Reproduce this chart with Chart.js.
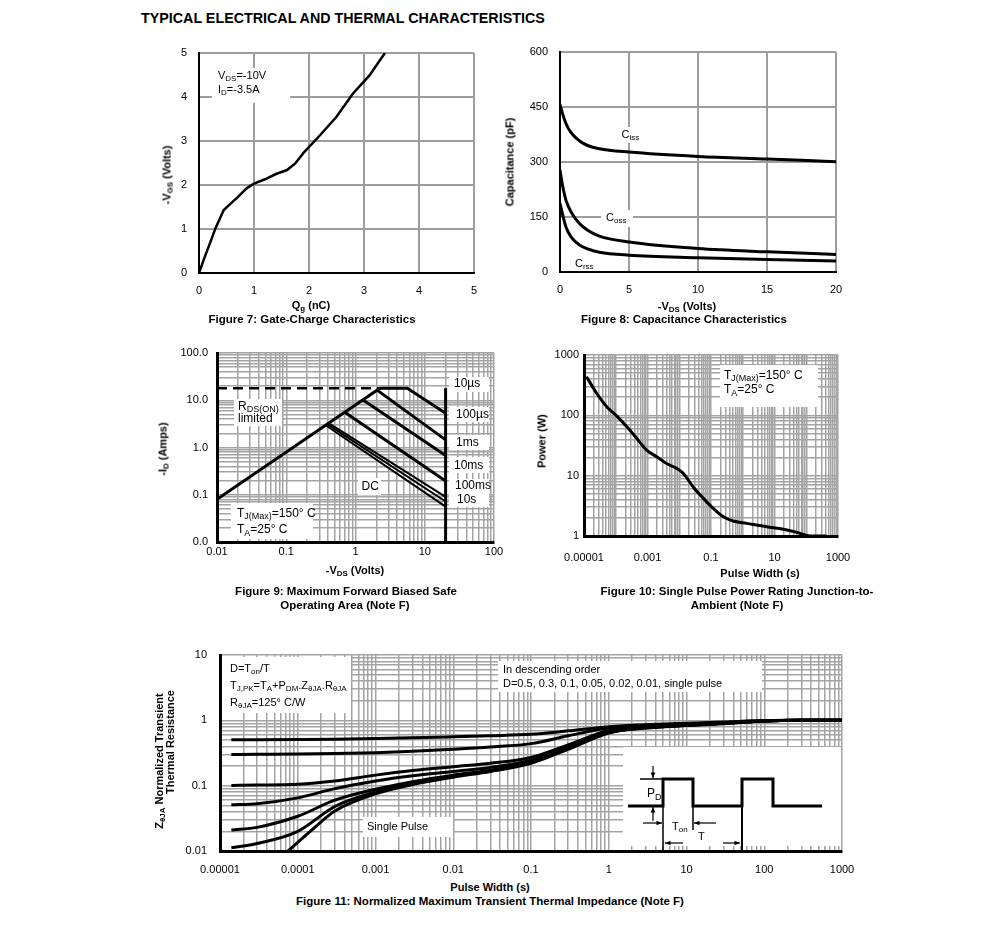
<!DOCTYPE html>
<html>
<head>
<meta charset="utf-8">
<title>Typical Electrical and Thermal Characteristics</title>
<script src="https://cdn.jsdelivr.net/npm/chart.js@4.4.1/dist/chart.umd.min.js"></script>
<style>
  html, body { margin: 0; padding: 0; background: #fff; }
  body { width: 991px; height: 926px; position: relative; overflow: hidden;
         font-family: "Liberation Sans", Arial, Helvetica, sans-serif; color: #000; }
  canvas { position: absolute; }
  .t { position: absolute; white-space: nowrap; font-weight: bold; font-size: 11px; line-height: 1;
       transform: translate(-50%, -50%); }
  .cap { font-size: 11.5px; }
  .rot { transform: translate(-50%, -50%) rotate(-90deg); }
  sub { font-size: 0.72em; vertical-align: -0.3em; line-height: 0; }
  #pageTitle { left: 141px; top: 11px; transform: none; font-size: 14.3px; }
</style>
</head>
<body>
<div class="t" id="pageTitle">TYPICAL ELECTRICAL AND THERMAL CHARACTERISTICS</div>

<canvas id="fig7" width="350" height="277" style="left:140px;top:33px"></canvas>
<div class="t rot" style="left:167px;top:175px">-V<sub>GS</sub> (Volts)</div>
<div class="t" style="left:311px;top:305px">Q<sub>g</sub> (nC)</div>
<div class="t cap" style="left:312px;top:320px">Figure 7: Gate-Charge Characteristics</div>

<canvas id="fig8" width="355" height="278" style="left:500px;top:32px"></canvas>
<div class="t rot" style="left:510px;top:162px">Capacitance (pF)</div>
<div class="t" style="left:687px;top:306px">-V<sub>DS</sub> (Volts)</div>
<div class="t cap" style="left:684px;top:320px">Figure 8: Capacitance Characteristics</div>

<canvas id="fig9" width="360" height="232" style="left:150px;top:333px"></canvas>
<div class="t rot" style="left:163px;top:449px">-I<sub>D</sub> (Amps)</div>
<div class="t" style="left:355px;top:570px">-V<sub>DS</sub> (Volts)</div>
<div class="t cap" style="left:346px;top:592px">Figure 9: Maximum Forward Biased Safe</div>
<div class="t cap" style="left:345px;top:606px">Operating Area (Note F)</div>

<canvas id="fig10" width="346" height="225" style="left:520px;top:340px"></canvas>
<div class="t rot" style="left:542px;top:441px">Power (W)</div>
<div class="t" style="left:760px;top:573px">Pulse Width (s)</div>
<div class="t cap" style="left:737px;top:592px">Figure 10: Single Pulse Power Rating Junction-to-</div>
<div class="t cap" style="left:737px;top:606px">Ambient (Note F)</div>

<canvas id="fig11" width="720" height="245" style="left:150px;top:635px"></canvas>
<div class="t rot" style="left:159px;top:761px">Z<sub>θJA</sub> Normalized Transient</div>
<div class="t rot" style="left:170px;top:742px">Thermal Resistance</div>
<div class="t" style="left:490px;top:887px">Pulse Width (s)</div>
<div class="t cap" style="left:490px;top:902px">Figure 11: Normalized Maximum Transient Thermal Impedance (Note F)</div>

<script>
// ---- Figure 7: gate charge ----
const gateCharge = [0, 0.1, 0.2, 0.3, 0.45, 0.55, 0.7, 0.87, 1.0, 1.2, 1.4, 1.6, 1.75, 1.9, 2.2, 2.5, 2.8, 3.1, 3.38];
const gateVolts = [0, 0.35, 0.68, 1.02, 1.43, 1.55, 1.72, 1.93, 2.03, 2.13, 2.25, 2.34, 2.49, 2.73, 3.13, 3.55, 4.08, 4.49, 5.0];

// ---- Figure 8: capacitance ----
const capVds = [0, 0.2, 0.43, 0.8, 1.4, 2, 2.85, 5, 10, 15, 20];
const capCiss = [457, 430, 405, 380, 358, 345, 336, 327, 315, 308, 301];
const capCoss = [278, 233, 196, 164, 132, 114, 98, 82, 64, 55, 48];
const capCrss = [187, 155, 123, 96, 74, 63, 54, 46, 39, 34, 30];

// ---- Figure 9: safe operating area, [Vds, Id] ----
const soaRdsLimit = [[0.01, 0.08], [2.25, 18]];
const soaCurrentLimit = [[0.01, 18], [2.25, 18]];
const soa10us = [[2.25, 18], [5.6, 18], [20, 5.3]];
const soa100us = [[2.05, 16.4], [20, 1.45]];
const soa1ms = [[1.27, 10.2], [20, 0.68]];
const soa10ms = [[0.7, 5.6], [20, 0.195]];
const soa100ms = [[0.41, 3.28], [20, 0.09]];
const soa10s = [[0.39, 3.12], [20, 0.072]];
const soaDC = [[0.37, 2.96], [20, 0.056]];
const soaVdsMax = [[20, 0.01], [20, 18]];
const soaXTicks = [0.01, 0.1, 1, 10, 100];
const soaXLabels = ['0.01', '0.1', '1', '10', '100'];
const soaYTicks = [0.01, 0.1, 1, 10, 100];
const soaYLabels = ['0.0', '0.1', '1.0', '10.0', '100.0'];

// ---- Figure 10: single pulse power ----
const pulseWidth = [1.2e-5, 2.5e-5, 5.2e-5, 1.07e-4, 2.2e-4, 4.6e-4, 9.4e-4, 1.95e-3, 4.0e-3, 8.3e-3, 1.35e-2,
  2.75e-2, 5.75e-2, 0.117, 0.245, 0.5, 1.33, 5.7, 19, 50, 132, 437];
const peakPower = [436, 232, 139, 98, 65, 41.4, 26.6, 20.6, 15.9, 13.2, 10.9,
  6.5, 4.2, 2.87, 2.08, 1.77, 1.62, 1.42, 1.29, 1.15, 1.0, 1.0];
const powXTicks = [1e-5, 1e-3, 0.1, 10, 1000];
const powXLabels = ['0.00001', '0.001', '0.1', '10', '1000'];
const powYTicks = [1, 10, 100, 1000];
const powYLabels = ['1', '10', '100', '1000'];

// ---- Figure 11: transient thermal impedance ----
const zthTime = [1.4e-5, 3e-5, 1e-4, 3e-4, 1e-3, 3e-3, 0.01, 0.03, 0.1, 0.3, 1, 3, 10, 30, 100, 300, 1000];
const zthD05 = [0.505, 0.506, 0.51, 0.515, 0.525, 0.54, 0.56, 0.58, 0.61, 0.69, 0.8, 0.86, 0.9, 0.94, 0.99, 1.0, 1.0];
const zthD03 = [0.3, 0.302, 0.305, 0.31, 0.32, 0.335, 0.36, 0.39, 0.44, 0.58, 0.76, 0.83, 0.88, 0.92, 0.99, 1.0, 1.0];
const zthD01 = [0.101, 0.102, 0.105, 0.118, 0.145, 0.17, 0.195, 0.22, 0.27, 0.42, 0.7, 0.8, 0.86, 0.91, 0.98, 1.0, 1.0];
const zthD005 = [0.051, 0.053, 0.065, 0.09, 0.118, 0.142, 0.165, 0.19, 0.245, 0.4, 0.68, 0.79, 0.85, 0.9, 0.98, 1.0, 1.0];
const zthD002 = [0.021, 0.023, 0.034, 0.06, 0.088, 0.115, 0.145, 0.172, 0.23, 0.38, 0.66, 0.78, 0.84, 0.9, 0.98, 1.0, 1.0];
const zthD001 = [0.0112, 0.013, 0.02, 0.048, 0.08, 0.108, 0.14, 0.168, 0.225, 0.37, 0.65, 0.77, 0.84, 0.9, 0.98, 1.0, 1.0];
const singleTime = [7.5e-5, 1e-4, 2e-4, 3e-4, 1e-3, 3e-3, 0.01, 0.03, 0.1, 0.3, 1, 3, 10, 30, 100, 300, 1000];
const singlePulse = [0.01, 0.0135, 0.028, 0.041, 0.075, 0.104, 0.135, 0.165, 0.22, 0.36, 0.64, 0.76, 0.83, 0.89, 0.98, 1.0, 1.0];
const zthXTicks = [1e-5, 1e-4, 1e-3, 0.01, 0.1, 1, 10, 100, 1000];
const zthXLabels = ['0.00001', '0.0001', '0.001', '0.01', '0.1', '1', '10', '100', '1000'];
const zthYTicks = [0.01, 0.1, 1, 10];
const zthYLabels = ['0.01', '0.1', '1', '10'];

const FONT = '"Liberation Sans", Arial, Helvetica, sans-serif';
Chart.defaults.font.family = FONT;
Chart.defaults.font.size = 11;
Chart.defaults.color = '#000';

// text with _{subscript} parts, drawn on the canvas
function richText(ctx, str, x, y, size) {
  let cx = x;
  str.split(/(_\{[^}]*\})/).forEach((part) => {
    if (!part) return;
    const sub = part.startsWith('_{');
    const t = sub ? part.slice(2, -1) : part;
    ctx.font = (sub ? Math.round(size * 0.72) : size) + 'px ' + FONT;
    ctx.fillText(t, cx, sub ? y + size * 0.28 : y);
    cx += ctx.measureText(t).width;
  });
}

// white label boxes and texts, offsets from the chart area's top-left
function notes(boxes, texts) {
  return {
    id: 'notes',
    beforeDatasetsDraw(chart) {
      const { ctx, chartArea: a } = chart;
      ctx.save();
      ctx.fillStyle = '#fff';
      boxes.forEach(([x, y, w, h]) => ctx.fillRect(a.left + x, a.top + y, w, h));
      ctx.fillStyle = '#000';
      ctx.textBaseline = 'middle';
      ctx.textAlign = 'left';
      texts.forEach(([x, y, s, size]) => richText(ctx, s, a.left + x, a.top + y, size || 11));
      ctx.restore();
    },
  };
}

function arrow(ctx, x1, y1, x2, y2) {
  const ang = Math.atan2(y2 - y1, x2 - x1);
  ctx.beginPath();
  ctx.moveTo(x1, y1);
  ctx.lineTo(x2, y2);
  ctx.stroke();
  ctx.beginPath();
  ctx.moveTo(x2, y2);
  ctx.lineTo(x2 - 6 * Math.cos(ang - 0.4), y2 - 6 * Math.sin(ang - 0.4));
  ctx.lineTo(x2 - 6 * Math.cos(ang + 0.4), y2 - 6 * Math.sin(ang + 0.4));
  ctx.closePath();
  ctx.fill();
}

// duty-cycle sketch in the corner of figure 11
const dutyInset = {
  id: 'dutyInset',
  beforeDatasetsDraw(chart) {
    const { ctx, chartArea: a } = chart;
    const L = a.right - 219, T = a.bottom - 104;
    ctx.save();
    ctx.fillStyle = '#fff';
    ctx.fillRect(L, T, 218, 99);
    ctx.strokeStyle = '#000';
    ctx.fillStyle = '#000';
    ctx.lineWidth = 3;
    ctx.beginPath();
    [[5, 59], [40, 59], [40, 32], [70, 32], [70, 59], [119, 59], [119, 32], [150, 32], [150, 59], [199, 59]]
      .forEach(([x, y], i) => (i ? ctx.lineTo(L + x, T + y) : ctx.moveTo(L + x, T + y)));
    ctx.stroke();
    ctx.lineWidth = 1.5;
    ctx.beginPath();
    ctx.moveTo(L + 40, T + 59); ctx.lineTo(L + 40, T + 104);
    ctx.moveTo(L + 70, T + 59); ctx.lineTo(L + 70, T + 83);
    ctx.moveTo(L + 17, T + 32); ctx.lineTo(L + 40, T + 32);
    ctx.stroke();
    ctx.lineWidth = 2;
    ctx.beginPath();
    ctx.moveTo(L + 119, T + 59); ctx.lineTo(L + 119, T + 104);
    ctx.stroke();
    ctx.lineWidth = 1.2;
    arrow(ctx, L + 30, T + 19, L + 30, T + 31);
    arrow(ctx, L + 30, T + 74, L + 30, T + 60);
    arrow(ctx, L + 20, T + 76, L + 39, T + 76);
    arrow(ctx, L + 93, T + 76, L + 71, T + 76);
    arrow(ctx, L + 60, T + 96, L + 42, T + 96);
    arrow(ctx, L + 100, T + 96, L + 117, T + 96);
    ctx.textBaseline = 'middle';
    richText(ctx, 'P_{D}', L + 24, T + 47, 12);
    richText(ctx, 'T_{on}', L + 49, T + 80, 11);
    richText(ctx, 'T', L + 75, T + 90, 11);
    ctx.restore();
  },
};

function fitAxis(size) {
  return (s) => { if (s.isHorizontal()) s.height = size; else s.width = size; };
}

function logTicks(minExp, maxExp) {
  const out = [];
  for (let e = minExp; e < maxExp; e++) {
    for (let m = 1; m < 10; m++) out.push(+(m * Math.pow(10, e)).toPrecision(3));
  }
  out.push(Math.pow(10, maxExp));
  return out;
}

function linAxis(min, max, step, size, pad) {
  return {
    type: 'linear', min, max,
    afterFit: fitAxis(size),
    ticks: { stepSize: step, padding: pad, maxRotation: 0, autoSkip: false },
    grid: { color: '#9d9d9d', lineWidth: 2, drawTicks: false },
    border: { color: '#000', width: 2, z: 1 },
  };
}

function logAxis(minExp, maxExp, tickVals, tickLabels, size, pad) {
  const grid = logTicks(minExp, maxExp);
  return {
    type: 'logarithmic',
    min: Math.pow(10, minExp), max: Math.pow(10, maxExp),
    afterFit: fitAxis(size),
    afterBuildTicks: (s) => { s.ticks = grid.map((value) => ({ value })); },
    ticks: {
      padding: pad, maxRotation: 0, minRotation: 0, autoSkip: false,
      callback: (v) => {
        const i = tickVals.findIndex((d) => Math.abs(d - v) < d * 1e-6);
        return i >= 0 ? tickLabels[i] : '';
      },
    },
    grid: { color: '#a3a3a3', lineWidth: 1.5, drawTicks: false },
    border: { color: '#000', width: 3, z: 1 },
  };
}

function baseOptions(padding, scales) {
  return {
    responsive: false,
    animation: false,
    events: [],
    layout: { padding },
    plugins: { legend: { display: false }, tooltip: { enabled: false } },
    elements: { point: { radius: 0 }, line: { borderColor: '#000', borderWidth: 3, fill: false } },
    scales,
  };
}

const pairs = (xs, ys) => xs.map((x, i) => ({ x, y: ys[i] }));
const pts = (arr) => arr.map(([x, y]) => ({ x, y }));

// Figure 7
new Chart(document.getElementById('fig7'), {
  type: 'line',
  data: { datasets: [{ data: pairs(gateCharge, gateVolts), borderWidth: 2.5, tension: 0 }] },
  options: baseOptions({ top: 20, right: 16, left: 0, bottom: 0 }, {
    x: linAxis(0, 5, 1, 37, 11),
    y: linAxis(0, 5, 1, 59, 12),
  }),
  plugins: [notes([[13, 15, 78, 35]], [[19, 23, 'V_{DS}=-10V'], [19, 37, 'I_{D}=-3.5A']])],
});

// Figure 8
new Chart(document.getElementById('fig8'), {
  type: 'line',
  data: {
    datasets: [
      { data: pairs(capVds, capCiss), cubicInterpolationMode: 'monotone' },
      { data: pairs(capVds, capCoss), cubicInterpolationMode: 'monotone' },
      { data: pairs(capVds, capCrss), cubicInterpolationMode: 'monotone' },
    ],
  },
  options: baseOptions({ top: 20, right: 19, left: 0, bottom: 0 }, {
    x: linAxis(0, 20, 5, 38, 11),
    y: linAxis(0, 600, 150, 60, 12),
  }),
  plugins: [notes(
    [[57, 75, 28, 16], [41, 158, 32, 17], [11, 205, 26, 14]],
    [[61.5, 83, 'C_{iss}'], [46, 166, 'C_{oss}'], [15, 212, 'C_{rss}']]
  )],
});

// Figure 9
const soaWide = [soaRdsLimit, soa10us, soa100us, soa1ms, soa10ms, soaVdsMax];
const soaNarrow = [soa100ms, soa10s, soaDC];
new Chart(document.getElementById('fig9'), {
  type: 'line',
  data: {
    datasets: [
      { data: pts(soaCurrentLimit), borderWidth: 2.5, borderDash: [10, 6], tension: 0 },
      ...soaWide.map((l) => ({ data: pts(l), borderWidth: 3, tension: 0 })),
      ...soaNarrow.map((l) => ({ data: pts(l), borderWidth: 2, tension: 0 })),
    ],
  },
  options: baseOptions({ top: 20, right: 16, left: 0, bottom: 0 }, {
    x: logAxis(-2, 2, soaXTicks, soaXLabels, 23, 3),
    y: logAxis(-2, 2, soaYTicks, soaYLabels, 67, 9),
  }),
  plugins: [notes(
    [[17, 46, 48, 27], [14, 150, 82, 36], [141, 125, 23, 17],
     [232, 24, 40, 15], [232, 54, 40, 15], [232, 82, 40, 15],
     [232, 104, 40, 16], [232, 126, 40, 14], [232, 140, 40, 14]],
    [[21, 53.5, 'R_{DS(ON)}', 12], [21, 65.5, 'limited', 12],
     [20, 160.5, 'T_{J(Max)}=150° C', 12], [20, 177, 'T_{A}=25° C', 12],
     [144.5, 133.5, 'DC', 12],
     [237, 31, '10µs', 12], [239, 62, '100µs', 12], [239, 90, '1ms', 12],
     [237, 112.5, '10ms', 12], [238, 133, '100ms', 12], [240, 147, '10s', 12]]
  )],
});

// Figure 10
new Chart(document.getElementById('fig10'), {
  type: 'line',
  data: { datasets: [{ data: pairs(pulseWidth, peakPower), cubicInterpolationMode: 'monotone' }] },
  options: baseOptions({ top: 15, right: 28, left: 0, bottom: 0 }, {
    x: logAxis(-5, 3, powXTicks, powXLabels, 29, 15),
    y: logAxis(0, 3, powYTicks, powYLabels, 64, 5),
  }),
  plugins: [notes([[136, 10, 98, 42]],
    [[140, 20.5, 'T_{J(Max)}=150° C', 12], [140, 35, 'T_{A}=25° C', 12]])],
});

// Figure 11
const zthCurves = [zthD05, zthD03, zthD01, zthD005, zthD002, zthD001];
new Chart(document.getElementById('fig11'), {
  type: 'line',
  data: {
    datasets: [
      ...zthCurves.map((c) => ({ data: pairs(zthTime, c), cubicInterpolationMode: 'monotone' })),
      { data: pairs(singleTime, singlePulse), cubicInterpolationMode: 'monotone' },
    ],
  },
  options: baseOptions({ top: 20, right: 28, left: 0, bottom: 0 }, {
    x: logAxis(-5, 3, zthXTicks, zthXLabels, 29, 12),
    y: logAxis(-2, 1, zthYTicks, zthYLabels, 70, 13),
  }),
  plugins: [notes(
    [[1, 2, 130, 56], [278, 6, 264, 31], [143, 162, 90, 20]],
    [[10, 14, 'D=T_{on}/T'], [10, 31, 'T_{J,PK}=T_{A}+P_{DM}.Z_{θJA}.R_{θJA}'], [10, 48, 'R_{θJA}=125° C/W'],
     [283, 15, 'In descending order'], [283, 29, 'D=0.5, 0.3, 0.1, 0.05, 0.02, 0.01, single pulse'],
     [147, 172, 'Single Pulse']]
  ), dutyInset],
});
</script>
</body>
</html>
